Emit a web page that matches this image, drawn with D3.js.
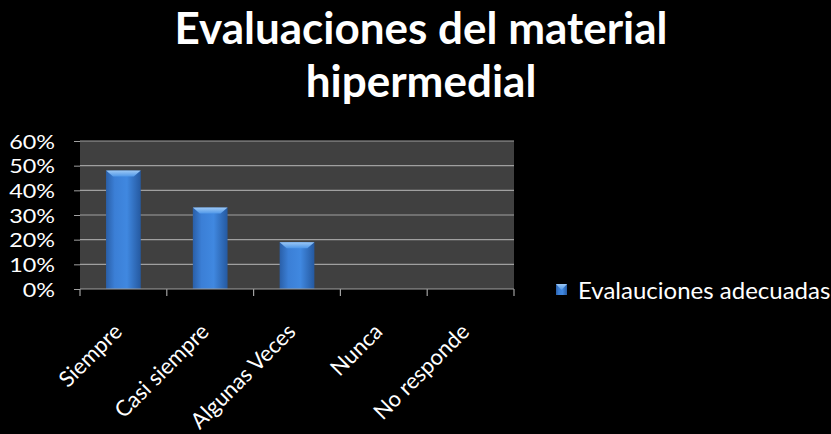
<!DOCTYPE html>
<html><head><meta charset="utf-8">
<script src="https://cdn.jsdelivr.net/npm/d3@7"></script>
<style>html,body{margin:0;padding:0;background:#000;}svg{display:block;}</style>
</head><body>
<script>
const categories = ["Siempre", "Casi siempre", "Algunas Veces", "Nunca", "No responde"];
const values = [0.48, 0.33, 0.19, 0, 0];
const yTicks = [0, 0.1, 0.2, 0.3, 0.4, 0.5, 0.6];
const seriesName = "Evalauciones adecuadas";
const titleLines = ["Evaluaciones del material", "hipermedial"];

const W = 831, H = 434;
const plot = {left: 80, right: 514, top: 141, bottom: 289};
const font = "Lato, 'Open Sans', sans-serif";

const svg = d3.select("body").append("svg").attr("width", W).attr("height", H);
svg.append("rect").attr("width", W).attr("height", H).attr("fill", "#000");

const defs = svg.append("defs");
const g1 = defs.append("linearGradient").attr("id", "barGrad").attr("x1", 0).attr("x2", 1).attr("y1", 0).attr("y2", 0);
g1.append("stop").attr("offset", "0%").attr("stop-color", "#2a5fa8");
g1.append("stop").attr("offset", "25%").attr("stop-color", "#3b7fd6");
g1.append("stop").attr("offset", "60%").attr("stop-color", "#4088e0");
g1.append("stop").attr("offset", "100%").attr("stop-color", "#2559a0");
const g2 = defs.append("linearGradient").attr("id", "capGrad").attr("x1", 0).attr("x2", 0).attr("y1", 0).attr("y2", 1);
g2.append("stop").attr("offset", "0%").attr("stop-color", "#9cc8f5");
g2.append("stop").attr("offset", "100%").attr("stop-color", "#4f97e8");

const x = d3.scaleBand().domain(categories).range([plot.left, plot.right]).paddingInner(0.6).paddingOuter(0.3);
const y = d3.scaleLinear().domain([0, 0.6]).range([plot.bottom, plot.top]);

// plot background
svg.append("rect").attr("x", plot.left).attr("y", plot.top)
  .attr("width", plot.right - plot.left).attr("height", plot.bottom - plot.top).attr("fill", "#404040");

// gridlines
svg.append("g").selectAll("line").data(yTicks.filter(d => d > 0)).join("line")
  .attr("x1", plot.left).attr("x2", plot.right)
  .attr("y1", d => y(d)).attr("y2", d => y(d))
  .attr("stroke", "#a0a0a0").attr("stroke-width", 1.2);

// y axis
const yAxis = svg.append("g").attr("transform", `translate(${plot.left},0)`)
  .call(d3.axisLeft(y).tickValues(yTicks).tickFormat(d3.format(".0%")).tickSize(6).tickPadding(0));
yAxis.select(".domain").remove();
yAxis.selectAll("line").attr("stroke", "#a0a0a0");
yAxis.selectAll("text").attr("x", null)
  .attr("transform", "translate(-25,0) scale(1.17,1)")
  .attr("fill", "#fff").style("font-family", font).style("font-size", "20px").attr("dy", "0.36em");

// bars
const bars = svg.append("g");
const data = categories.map((c, i) => ({c, v: values[i]})).filter(d => d.v > 0);
bars.selectAll("rect").data(data).join("rect")
  .attr("x", d => x(d.c)).attr("y", d => y(d.v))
  .attr("width", x.bandwidth()).attr("height", d => y(0) - y(d.v))
  .attr("fill", "url(#barGrad)");
bars.selectAll("path").data(data).join("path")
  .attr("d", d => {
    const x0 = x(d.c), x1 = x0 + x.bandwidth(), t = y(d.v), cap = 6, ins = 7;
    return `M${x0},${t}L${x1},${t}L${x1 - ins},${t + cap}L${x0 + ins},${t + cap}Z`;
  })
  .attr("fill", "url(#capGrad)");

// x axis line & ticks
svg.append("line").attr("x1", plot.left).attr("x2", plot.right).attr("y1", plot.bottom).attr("y2", plot.bottom)
  .attr("stroke", "#a0a0a0").attr("stroke-width", 1.2);
const bounds = d3.range(categories.length + 1).map(i => plot.left + i * (plot.right - plot.left) / categories.length);
svg.append("g").selectAll("line").data(bounds).join("line")
  .attr("x1", d => d).attr("x2", d => d).attr("y1", plot.bottom).attr("y2", plot.bottom + 7)
  .attr("stroke", "#a0a0a0").attr("stroke-width", 1.2);

// x labels
svg.append("g").selectAll("text").data(categories).join("text")
  .attr("transform", d => `translate(${x(d) + x.bandwidth() / 2},${plot.bottom + 44}) rotate(-45)`)
  .attr("text-anchor", "end")
  .attr("fill", "#fff").style("font-family", font).style("font-size", "22px")
  .text(d => d);

// title
svg.append("g").selectAll("text").data(titleLines).join("text")
  .attr("x", 421).attr("y", (d, i) => 44 + i * 53)
  .attr("text-anchor", "middle").attr("fill", "#fff")
  .style("font-family", font).style("font-weight", "bold").style("font-size", "44px")
  .text(d => d);

// legend
const lg = svg.append("g").attr("transform", "translate(556,284)");
lg.append("rect").attr("width", 11).attr("height", 11).attr("fill", "url(#barGrad)");
lg.append("path").attr("d", "M0,0L11,0L5.5,6Z").attr("fill", "url(#capGrad)");
lg.append("text").attr("x", 22).attr("y", 6).attr("dy", "0.36em").attr("fill", "#fff")
  .style("font-family", font).style("font-size", "24px").text(seriesName);
</script>
</body></html>
